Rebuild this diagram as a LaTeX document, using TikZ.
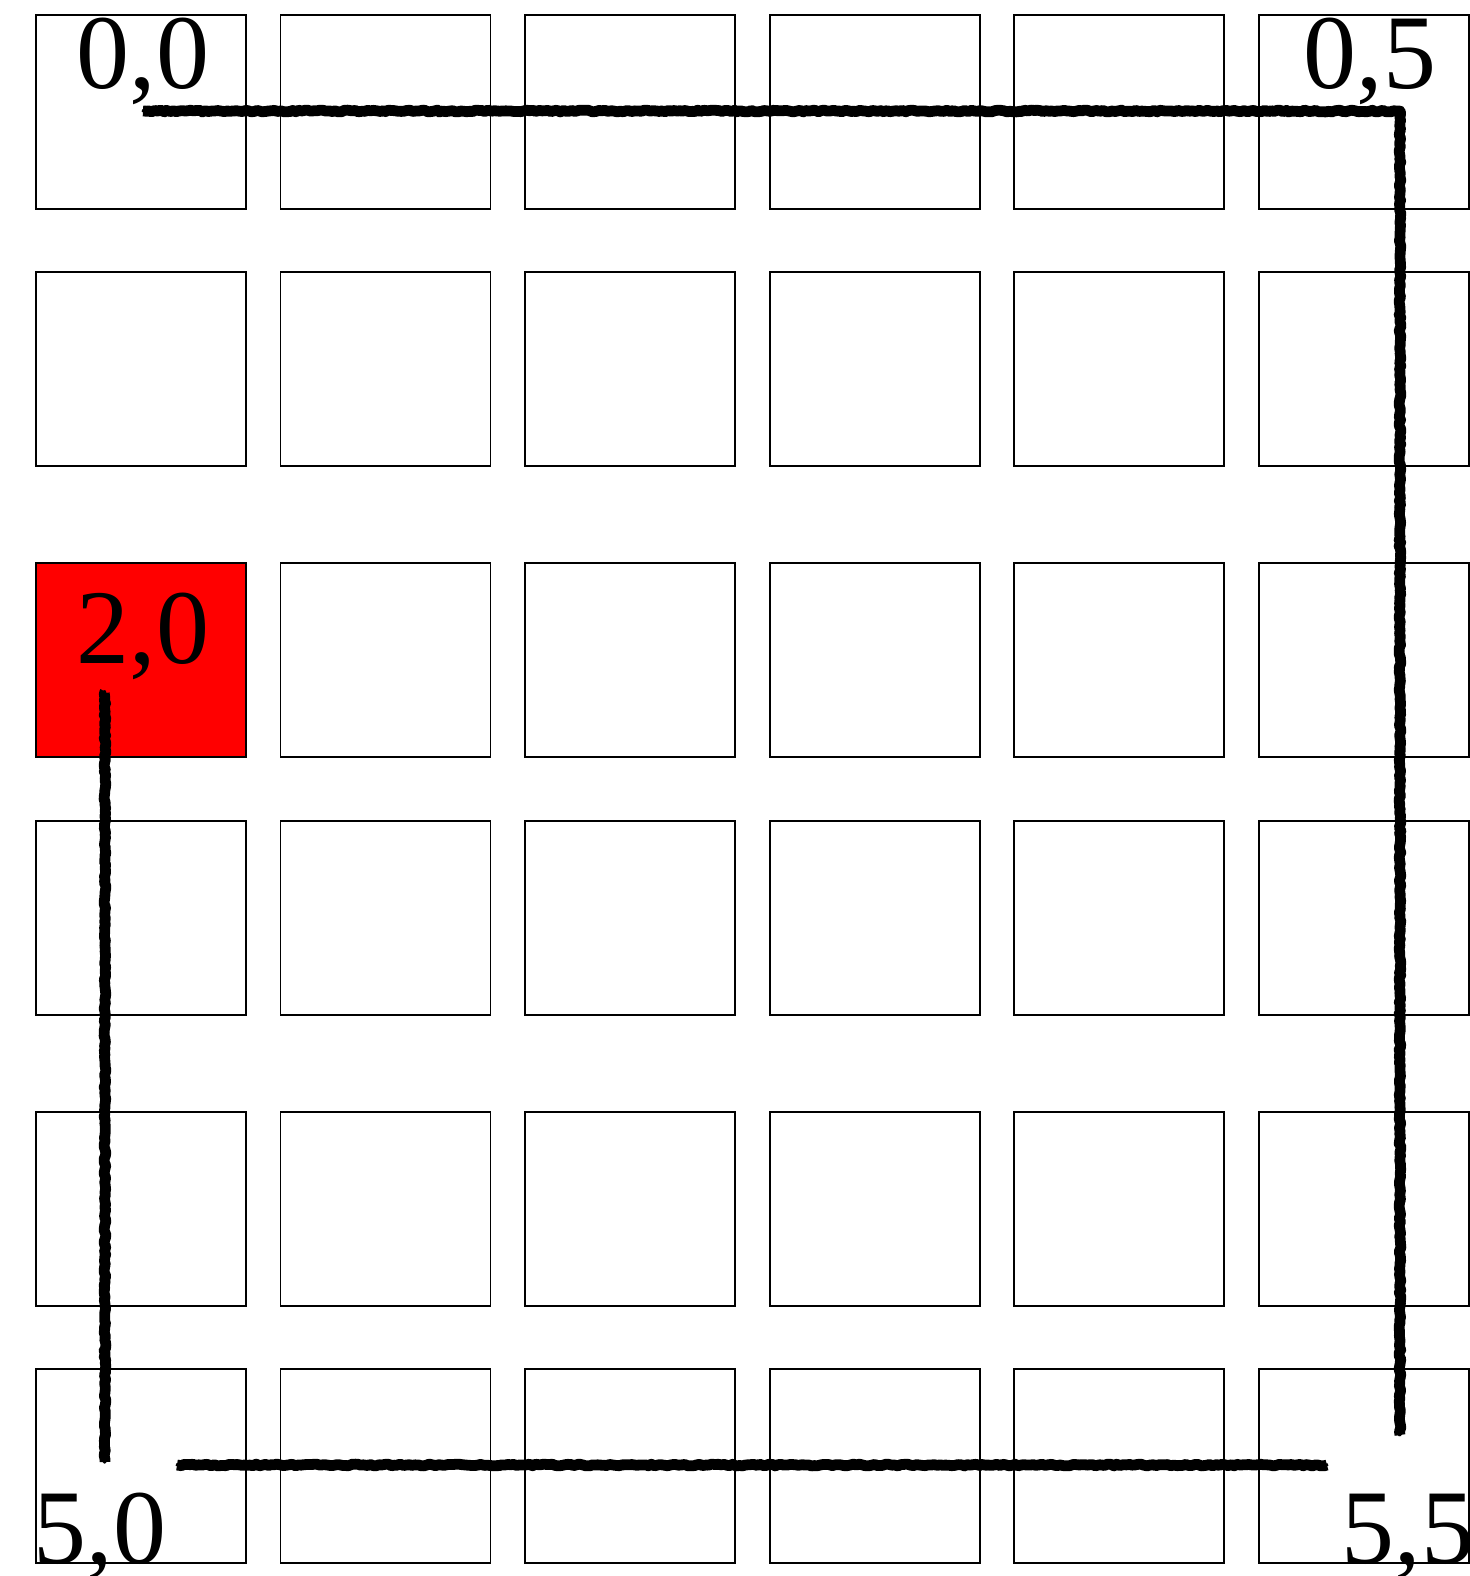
\documentclass[tikz,border=0pt]{standalone}
\usepackage{fontspec}
\setmainfont{Liberation Serif}
\usetikzlibrary{positioning,decorations.pathmorphing}
\definecolor{gridink}{HTML}{000000}
\definecolor{hitred}{HTML}{FF0000}
\tikzset{
  cellbox/.style={draw=gridink, line width=0.85pt, fill=white, minimum width=105pt, minimum height=97pt, inner sep=0pt, anchor=north west},
  hotcell/.style={cellbox, fill=hitred},
  lbl/.style={font=\fontsize{53}{60}\selectfont, inner sep=0pt, anchor=base},
  crayon/.style={draw=gridink, line width=5.4pt, line join=round, decorate, decoration={random steps, segment length=1.5pt, amplitude=0.45pt}},
  crumb/.style={draw=gridink, line width=1.6pt, line join=round, line cap=round, decorate, decoration={random steps, segment length=1pt, amplitude=1.4pt}},
}

\begin{document}
\begin{tikzpicture}[x=0.5pt, y=-0.5pt]
    \useasboundingbox (0,0) rectangle (1470,1576);
    % grid of cells, row by row
    \foreach \r/\y in {0/14,1/271,2/562,3/820,4/1111,5/1368}
      \foreach \c in {0,...,5}
      { \ifnum\r=2 \ifnum\c=0 \def\sty{hotcell}\else\def\sty{cellbox}\fi\else\def\sty{cellbox}\fi
        \node[\sty] (cell-\r-\c) at ({35+244.6*\c},\y) {}; }
    % corner labels
    \node[lbl] (l00) at (143,88) {0,0};
    \node[lbl] (l05) at (1370,88) {0,5};
    \node[lbl] (l20) at (143,663) {2,0};
    \node[lbl] (l50) at (100,1563) {5,0};
    \node[lbl] (l55) at (1408,1563) {5,5};
    % path points
    \coordinate (p00) at (143,111);
    \coordinate (p05) at (1400,111);
    \coordinate (p55) at (1400,1435);
    \coordinate (q55) at (1327,1465);
    \coordinate (q50) at (177,1465);
    \coordinate (r50) at (105,1462);
    \coordinate (r20) at (105,692);
    \foreach \s in {crayon,crumb}
      { \draw[\s] (p00) -- (p05) -- (p55);
        \draw[\s] (q55) -- (q50);
        \draw[\s] (r50) -- (r20); }
  \end{tikzpicture}
\end{document}
